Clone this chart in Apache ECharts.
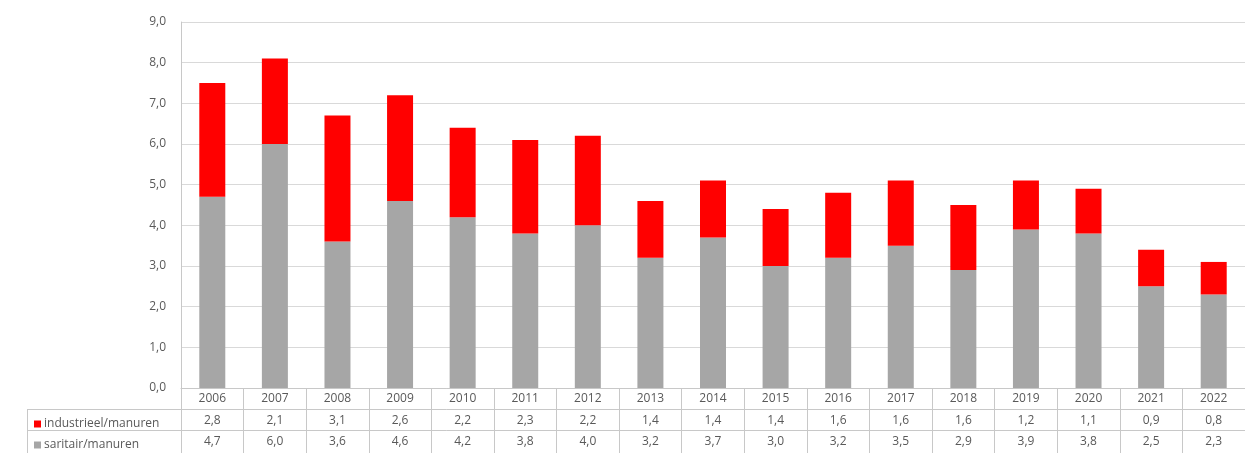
<!DOCTYPE html>
<html>
<head>
<meta charset="utf-8">
<script src="https://cdn.jsdelivr.net/npm/echarts@6/dist/echarts.min.js"></script>
<style>
html,body{margin:0;padding:0;background:#fff;}
#chart{width:1245px;height:453px;}
</style>
</head>
<body>
<div id="chart"></div>
<script>
const years = ['2006','2007','2008','2009','2010','2011','2012','2013','2014','2015','2016','2017','2018','2019','2020','2021','2022'];
const industrieel = [2.8,2.1,3.1,2.6,2.2,2.3,2.2,1.4,1.4,1.4,1.6,1.6,1.6,1.2,1.1,0.9,0.8];
const saritair = [4.7,6.0,3.6,4.6,4.2,3.8,4.0,3.2,3.7,3.0,3.2,3.5,2.9,3.9,3.8,2.5,2.3];
const yTicks = {min:0, max:9, interval:1};
const nameInd = 'industrieel/manuren';
const nameSar = 'saritair/manuren';

const fmt = v => Number(v).toFixed(1).replace('.', ',');
const txt = '#595959';
const font = '"Open Sans", sans-serif';
const lineCol = '#c8c8c8';

const chart = echarts.init(document.getElementById('chart'));
chart.setOption({
  backgroundColor:'#fff',
  animation:false,
  textStyle:{fontFamily:font},
  grid:{left:181, top:22, width:1072, bottom:65},
  legend:[
    {data:[nameInd], left:29, top:413, icon:'rect', itemWidth:7, itemHeight:7, itemGap:4,
     textStyle:{color:txt, fontSize:12, fontFamily:font, padding:[0,0,0,-2]}},
    {data:[nameSar], left:29, top:434, icon:'rect', itemWidth:7, itemHeight:7, itemGap:4,
     textStyle:{color:txt, fontSize:12, fontFamily:font, padding:[0,0,0,-2]}}
  ],
  xAxis:[
    {type:'category', data:years, position:'bottom',
     axisLine:{show:true, lineStyle:{color:lineCol}},
     axisTick:{show:true, length:66, interval:0, lineStyle:{color:lineCol}},
     axisLabel:{color:txt, fontSize:12, margin:5, interval:0, fontFamily:font}},
    {type:'category', data:years, position:'bottom', offset:21,
     axisLine:{show:true, lineStyle:{color:lineCol}},
     axisTick:{show:false},
     axisLabel:{color:txt, fontSize:12, margin:6, interval:0, fontFamily:font,
       formatter:(v,i)=>fmt(industrieel[i])}},
    {type:'category', data:years, position:'bottom', offset:42,
     axisLine:{show:true, lineStyle:{color:lineCol}},
     axisTick:{show:false},
     axisLabel:{color:txt, fontSize:12, margin:6, interval:0, fontFamily:font,
       formatter:(v,i)=>fmt(saritair[i])}}
  ],
  yAxis:{type:'value', min:yTicks.min, max:yTicks.max, interval:yTicks.interval,
    axisLine:{show:true, lineStyle:{color:lineCol}},
    axisTick:{show:false},
    splitLine:{lineStyle:{color:'#d9d9d9'}},
    axisLabel:{color:txt, fontSize:12, margin:15, fontFamily:font, formatter:v=>fmt(v)}},
  series:[
    {name:nameSar, type:'bar', stack:'t', data:saritair, barWidth:26, itemStyle:{color:'#a6a6a6'}},
    {name:nameInd, type:'bar', stack:'t', data:industrieel, barWidth:26, itemStyle:{color:'#ff0000'}}
  ],
  graphic:[
    {type:'line', shape:{x1:27, y1:409.5, x2:181, y2:409.5}, style:{stroke:lineCol, lineWidth:1}},
    {type:'line', shape:{x1:27, y1:430.5, x2:181, y2:430.5}, style:{stroke:lineCol, lineWidth:1}},
    {type:'line', shape:{x1:27.5, y1:409, x2:27.5, y2:453}, style:{stroke:lineCol, lineWidth:1}}
  ]
});
</script>
</body>
</html>
